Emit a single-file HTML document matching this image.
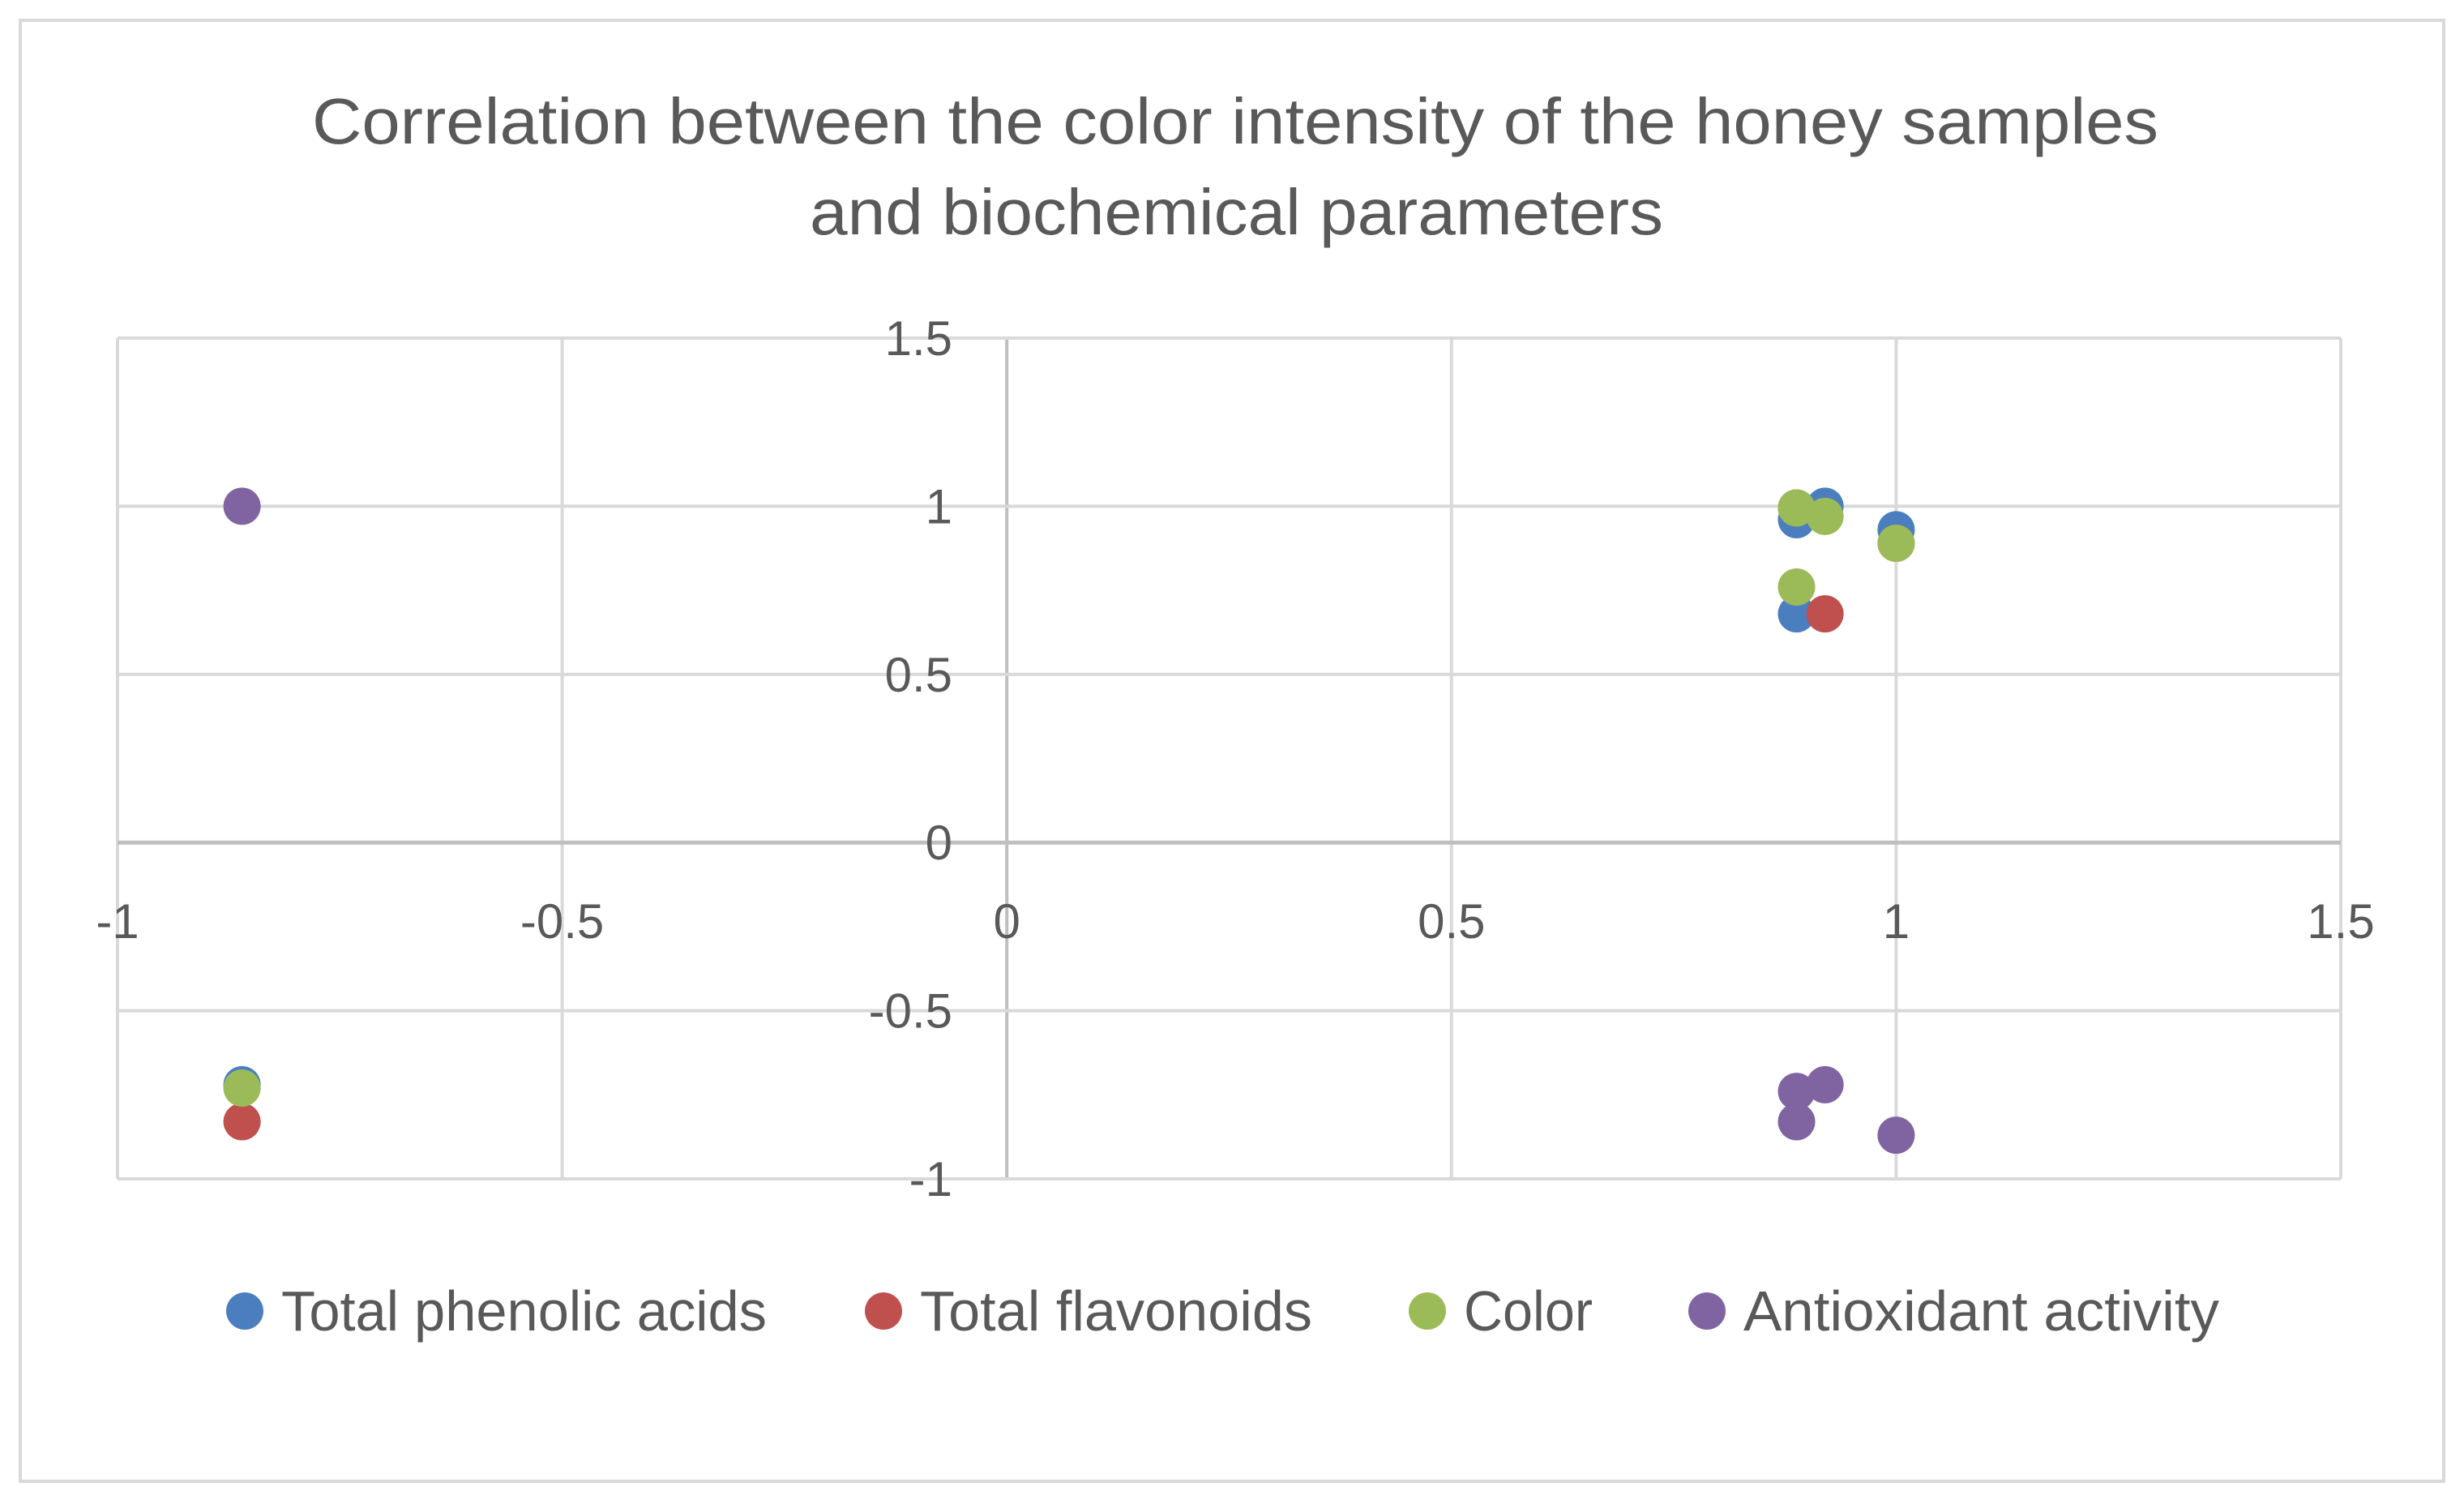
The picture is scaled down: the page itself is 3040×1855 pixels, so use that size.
<!DOCTYPE html>
<html><head><meta charset="utf-8"><style>
html,body{margin:0;padding:0;background:#fff;}
svg{display:block;font-family:"Liberation Sans",sans-serif;}
</style></head><body>
<svg id="chart" width="3040" height="1855" viewBox="0 0 3040 1855">
<rect x="25" y="25" width="2990" height="1802" fill="#fff" stroke="#d9d9d9" stroke-width="4"/>
<g fill="#595959" font-size="80">
<text x="385" y="177" textLength="2278" lengthAdjust="spacingAndGlyphs">Correlation between the color intensity of the honey samples</text>
<text x="999" y="289" textLength="1053" lengthAdjust="spacingAndGlyphs">and biochemical parameters</text>
</g>
<g id="grid"></g>
<g id="ticks"></g>
<g id="marks"></g>
<g id="legend"></g>
</svg>
<script>
const xTicks=[-1,-0.5,0,0.5,1,1.5];
const yTicks=[1.5,1,0.5,0,-0.5,-1];
const xTickLabels=["-1","-0.5","0","0.5","1","1.5"];
const yTickLabels=["1.5","1","0.5","0","-0.5","-1"];
const seriesNames=["Total phenolic acids","Total flavonoids","Color","Antioxidant activity"];
const seriesColors=["#4a7ebf","#c0504d","#9bbb59","#8064a2"];
const phenolicX=[-0.86,0.888,0.888,0.92,1.0];
const phenolicY=[-0.72,0.96,0.68,1.0,0.93];
const flavonoidX=[-0.86,0.888,0.92,1.0];
const flavonoidY=[-0.83,0.995,0.68,0.89];
const colorX=[-0.86,0.888,0.888,0.92,1.0];
const colorY=[-0.73,0.995,0.76,0.97,0.89];
const antioxX=[-0.86,0.888,0.888,0.92,1.0];
const antioxY=[1.0,-0.74,-0.83,-0.72,-0.87];

const NS="http://www.w3.org/2000/svg";
const X0=145,X1=2888,XMIN=-1,XMAX=1.5;
const Y0=417,Y1=1454,YMAX=1.5,YMIN=-1;
function sx(v){return X0+(v-XMIN)/(XMAX-XMIN)*(X1-X0);}
function sy(v){return Y0+(YMAX-v)/(YMAX-YMIN)*(Y1-Y0);}
function mk(tag,attrs,parent){const e=document.createElementNS(NS,tag);for(const k in attrs)e.setAttribute(k,attrs[k]);parent.appendChild(e);return e;}
const grid=document.getElementById('grid'),ticks=document.getElementById('ticks'),marks=document.getElementById('marks'),legend=document.getElementById('legend');
xTicks.forEach((t,i)=>{
  const l=mk('line',{x1:sx(t),x2:sx(t),y1:Y0,y2:Y1,stroke:t===0?'#bfbfbf':'#d9d9d9','stroke-width':4},grid);
  
  
  const tx=mk('text',{x:sx(t),y:sy(0)+118,'text-anchor':'middle','font-size':60,fill:'#595959'},ticks);
  tx.textContent=xTickLabels[i];
  
  
});
yTicks.forEach((t,i)=>{
  const l=mk('line',{x1:X0,x2:X1,y1:sy(t),y2:sy(t),stroke:t===0?'#bfbfbf':'#d9d9d9','stroke-width':t===0?5:4},grid);
  
  
  const tx=mk('text',{x:1175,y:sy(t)+21,'text-anchor':'end','font-size':60,fill:'#595959'},ticks);
  tx.textContent=yTickLabels[i];
  
  
});
const allX=[phenolicX,flavonoidX,colorX,antioxX],allY=[phenolicY,flavonoidY,colorY,antioxY];
const order=[0,1,2,3];
order.forEach(s=>{
  const g=mk('g',{},marks);
  
  
  allX[s].forEach((xv,i)=>{
    const c=mk('circle',{cx:sx(xv),cy:sy(allY[s][i]),r:23,fill:seriesColors[s]},g);
    
    
  });
});
const legX=[302,1090,1761,2106],legW=[599,484,159,587];
seriesNames.forEach((n,i)=>{
  const g=mk('g',{},legend);
  
  
  mk('circle',{cx:legX[i],cy:1617,r:23,fill:seriesColors[i]},g);
  const t=mk('text',{x:legX[i]+45,y:1641,'font-size':70,fill:'#595959',textLength:legW[i],lengthAdjust:'spacingAndGlyphs'},g);
  t.textContent=n;
});
</script>
</body></html>
